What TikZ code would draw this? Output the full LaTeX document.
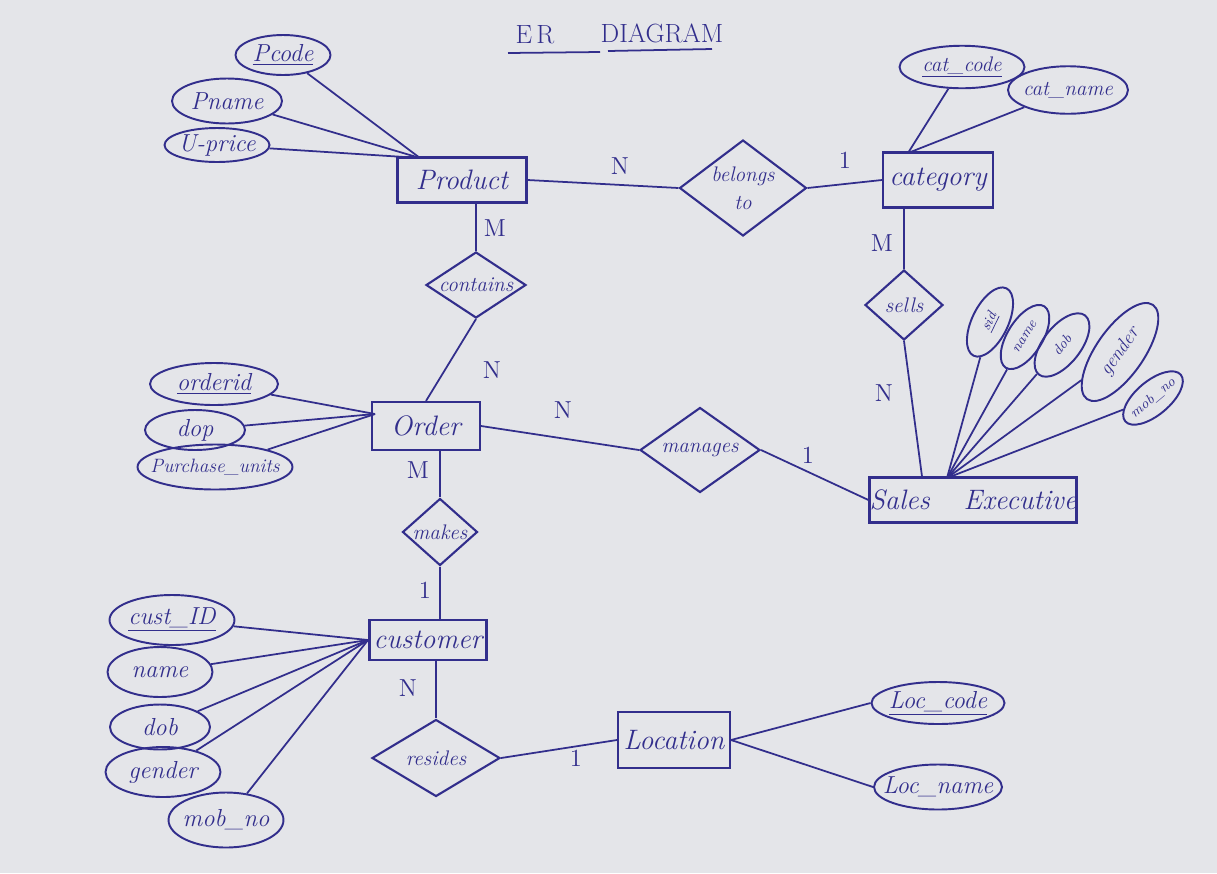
\documentclass[tikz,border=0pt]{standalone}
\usepackage{fontspec}
\usetikzlibrary{shapes.geometric}
\definecolor{ink}{RGB}{50,46,140}
\definecolor{paper}{RGB}{228,229,233}
\newcommand\zw[1]{\makebox[0pt]{#1}}
\newcommand\fentity{\fontsize{16}{19}\selectfont\itshape}
\newcommand\fattr{\fontsize{14}{17}\selectfont\itshape}
\newcommand\fsmall{\fontsize{12}{14}\selectfont\itshape}
\newcommand\fsmaller{\fontsize{11}{13}\selectfont\itshape}
\newcommand\ftiny{\fontsize{8}{10}\selectfont\itshape}
\newcommand\fcard{\fontsize{14}{16}\selectfont}
\newcommand\ftitle{\fontsize{15}{18}\selectfont}
\begin{document}
\begin{tikzpicture}[x=0.02cm,y=-0.02cm,
  every node/.style={text=ink},
  entity/.style={draw=ink, line width=1.2pt, rectangle, inner sep=0pt, font=\fentity},
  attr/.style={draw=ink, line width=1.1pt, ellipse, inner sep=0pt, font=\fattr},
  rel/.style={draw=ink, line width=1.2pt, diamond, inner sep=0pt, font=\fsmall, align=center},
  card/.style={font=\fcard, inner sep=1pt},
  conn/.style={draw=ink, line width=1.0pt}]
\useasboundingbox (0,0) rectangle (1217,873);
\fill[paper] (0,0) rectangle (1217,873);

% title
\node[font=\ftitle] (t1) at (535,35) {E\,R};
\node[font=\ftitle] (t2) at (662,33) {DIAGRAM};
\coordinate (u1a) at (508,53); \coordinate (u1b) at (600,52);
\coordinate (u2a) at (608,51); \coordinate (u2b) at (712,49);
\draw[conn] (u1a) -- (u1b);
\draw[conn] (u2a) -- (u2b);

% entities
\node[entity, minimum width=2.58cm, minimum height=0.9cm] (product) at (462,180) {Product};
\node[entity, minimum width=2.2cm, minimum height=1.1cm] (category) at (938,180) {category};
\node[entity, minimum width=2.16cm, minimum height=0.96cm] (order) at (426,426) {Order};
\node[entity, minimum width=4.14cm, minimum height=0.9cm] (salesexec) at (973,500) {Sales\hspace{1.2em}Executive};
\node[entity, minimum width=2.34cm, minimum height=0.8cm] (customer) at (428,640) {customer};
\node[entity, minimum width=2.24cm, minimum height=1.12cm] (location) at (674,740) {Location};

% relationships
\node[rel, minimum width=2.54cm, minimum height=1.92cm] (belongs) at (743,188) {\zw{belongs}\\[2pt]\zw{to}};
\node[rel, minimum width=2.0cm, minimum height=1.32cm] (contains) at (476,285) {\zw{contains}};
\node[rel, minimum width=1.56cm, minimum height=1.4cm] (sells) at (904,305) {\zw{sells}};
\node[rel, minimum width=2.4cm, minimum height=1.7cm] (manages) at (700,450) {\zw{manages}};
\node[rel, minimum width=1.5cm, minimum height=1.34cm] (makes) at (440,532) {\zw{makes}};
\node[rel, minimum width=2.56cm, minimum height=1.54cm] (resides) at (436,758) {\zw{resides}};

% product attributes
\node[attr, minimum width=1.9cm, minimum height=0.8cm] (pcode) at (283,55) {\zw{\underline{Pcode}}};
\node[attr, minimum width=2.2cm, minimum height=0.9cm] (pname) at (227,101) {\zw{Pname}};
\node[attr, minimum width=2.1cm, minimum height=0.68cm] (uprice) at (217,145) {\zw{U-price}};
\coordinate (phub) at (420,158);
\draw[conn] (pcode) -- (phub);
\draw[conn] (pname) -- (phub);
\draw[conn] (uprice) -- (phub);

% category attributes
\node[attr, font=\fsmall, minimum width=2.5cm, minimum height=0.85cm] (catcode) at (962,67) {\zw{\underline{cat\_code}}};
\node[attr, font=\fsmall, minimum width=2.4cm, minimum height=0.95cm] (catname) at (1068,90) {\zw{cat\_name}};
\coordinate (chub) at (908,153);
\draw[conn] (catcode) -- (chub);
\draw[conn] (catname) -- (chub);

% order attributes
\node[attr, minimum width=2.56cm, minimum height=0.84cm] (orderid) at (214,384) {\zw{\underline{orderid}}};
\node[attr, minimum width=2.0cm, minimum height=0.8cm] (dop) at (195,430) {\zw{dop}};
\node[attr, minimum width=3.1cm, minimum height=0.9cm, font=\fsmaller] (purch) at (215,467) {\zw{Purchase\_units}};
\coordinate (ohub) at (375,414);
\draw[conn] (orderid) -- (ohub);
\draw[conn] (dop) -- (ohub);
\draw[conn] (purch) -- (ohub);

% sales executive attributes
\node[attr, font=\ftiny, rotate=64, minimum width=1.5cm, minimum height=0.72cm] (sid) at (990,322) {\zw{\underline{sid}}};
\node[attr, font=\ftiny, rotate=58, minimum width=1.45cm, minimum height=0.7cm] (sename) at (1025,337) {\zw{name}};
\node[attr, font=\ftiny, rotate=52, minimum width=1.5cm, minimum height=0.75cm] (sedob) at (1062,345) {\zw{dob}};
\node[attr, font=\fsmaller, rotate=55, minimum width=2.3cm, minimum height=0.95cm] (segender) at (1120,352) {\zw{gender}};
\node[attr, font=\ftiny, rotate=40, minimum width=1.45cm, minimum height=0.68cm] (semob) at (1153,398) {\zw{mob\_no}};
\coordinate (sehub) at (947,478);
\draw[conn] (sid) -- (sehub);
\draw[conn] (sename) -- (sehub);
\draw[conn] (sedob) -- (sehub);
\draw[conn] (segender) -- (sehub);
\draw[conn] (semob) -- (sehub);

% customer attributes
\node[attr, minimum width=2.5cm, minimum height=1.0cm] (custid) at (172,620) {\zw{\underline{cust\_ID}}};
\node[attr, minimum width=2.1cm, minimum height=1.0cm] (cname) at (160,672) {\zw{name}};
\node[attr, minimum width=2.0cm, minimum height=0.9cm] (cdob) at (160,727) {\zw{dob}};
\node[attr, minimum width=2.3cm, minimum height=1.0cm] (cgender) at (163,772) {\zw{gender}};
\node[attr, minimum width=2.3cm, minimum height=1.1cm] (cmob) at (226,820) {\zw{mob\_no}};
\coordinate (cuhub) at (368,640);
\draw[conn] (custid) -- (cuhub);
\draw[conn] (cname) -- (cuhub);
\draw[conn] (cdob) -- (cuhub);
\draw[conn] (cgender) -- (cuhub);
\draw[conn] (cmob) -- (cuhub);

% location attributes
\node[attr, minimum width=2.66cm, minimum height=0.84cm] (loccode) at (938,703) {\zw{\underline{Loc\_code}}};
\node[attr, minimum width=2.56cm, minimum height=0.9cm] (locname) at (938,787) {\zw{Loc\_name}};
\draw[conn] (location.east) -- (loccode.west);
\draw[conn] (location.east) -- (locname.west);

% relationship connectors
\draw[conn] (product.east) -- (belongs.west);
\draw[conn] (belongs.east) -- (category.west);
\draw[conn] (product.south -| contains.north) -- (contains.north);
\draw[conn] (contains.south) -- (order.north);
\draw[conn] (sells.north |- category.south) -- (sells.north);
\draw[conn] (sells.south) -- ([xshift=-1.02cm]salesexec.north);
\draw[conn] (order.east) -- (manages.west);
\draw[conn] (manages.east) -- (salesexec.west);
\draw[conn] (makes.north |- order.south) -- (makes.north);
\draw[conn] (makes.south) -- (makes.south |- customer.north);
\draw[conn] (resides.north |- customer.south) -- (resides.north);
\draw[conn] (resides.east) -- (location.west);

% cardinalities
\node[card] (c1) at (620,166) {N};
\node[card] (c2) at (845,160) {1};
\node[card] (c3) at (495,228) {M};
\node[card] (c4) at (492,370) {N};
\node[card] (c5) at (882,243) {M};
\node[card] (c6) at (884,393) {N};
\node[card] (c7) at (563,410) {N};
\node[card] (c8) at (808,455) {1};
\node[card] (c9) at (418,470) {M};
\node[card] (c10) at (425,590) {1};
\node[card] (c11) at (408,688) {N};
\node[card] (c12) at (576,758) {1};
\end{tikzpicture}
\end{document}
